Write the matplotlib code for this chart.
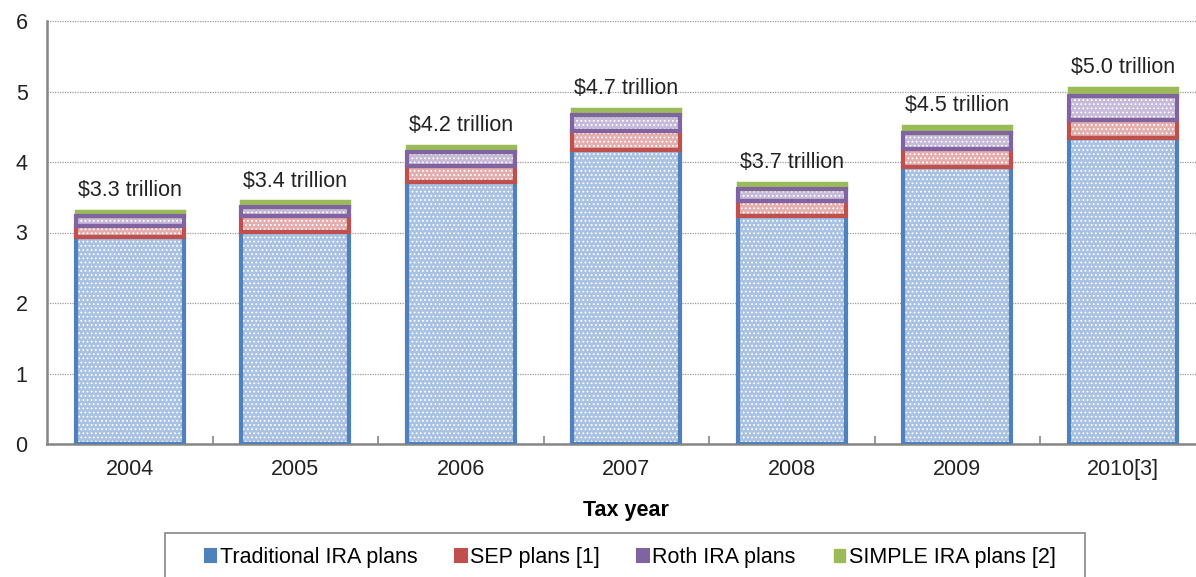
import matplotlib.pyplot as plt
import numpy as np

plt.rcParams['font.family'] = ['Liberation Sans', 'DejaVu Sans']
plt.rcParams['hatch.linewidth'] = 0.8

years = ['2004', '2005', '2006', '2007', '2008', '2009', '2010[3]']
traditional = [2.94, 3.01, 3.71, 4.17, 3.24, 3.93, 4.34]
sep = [0.15, 0.22, 0.24, 0.27, 0.21, 0.25, 0.26]
roth = [0.15, 0.13, 0.19, 0.22, 0.16, 0.23, 0.34]
simple = [0.07, 0.08, 0.09, 0.095, 0.095, 0.10, 0.11]
totals = ['$3.3 trillion', '$3.4 trillion', '$4.2 trillion', '$4.7 trillion',
          '$3.7 trillion', '$4.5 trillion', '$5.0 trillion']

series = [
    ('Traditional IRA plans', traditional, '#4F81BD', '#A9C1E2'),
    ('SEP plans [1]', sep, '#C0504D', '#E3AEAD'),
    ('Roth IRA plans', roth, '#8064A2', '#C6B9D9'),
    ('SIMPLE IRA plans [2]', simple, '#9BBB59', '#9BBB59'),
]

fig = plt.figure(figsize=(11.96, 5.77), dpi=100)
ax = fig.add_axes([47 / 1196, 1 - 444 / 577, 1158.5 / 1196, 423 / 577])

x = np.arange(len(years))
w = 0.65
bottom = np.zeros(len(years))
handles = []
for name, vals, edge, fill in series:
    vals = np.array(vals)
    if name.startswith('SIMPLE'):
        ax.bar(x, vals, w, bottom=bottom, color=fill, edgecolor=edge,
               linewidth=2.5, zorder=3)
        h = plt.Rectangle((0, 0), 1, 1, facecolor=edge, edgecolor=edge, linewidth=1)
    else:
        # hatched fill, then a thick coloured outline on top
        ax.bar(x, vals, w, bottom=bottom, color=fill, edgecolor='white',
               hatch='....', linewidth=0, zorder=3)
        ax.bar(x, vals, w, bottom=bottom, fill=False, edgecolor=edge,
               linewidth=3, zorder=4)
        h = plt.Rectangle((0, 0), 1, 1, facecolor=edge, edgecolor=edge,
                          linewidth=1.5)
    handles.append(h)
    bottom += vals

for xi, top, lab in zip(x, bottom, totals):
    ax.annotate(lab, (xi, top), xytext=(0, 7), textcoords='offset points',
                ha='center', va='bottom', fontsize=15.5, color='#222222')

ax.set_xlim(-0.5, len(years) - 0.5)
ax.set_ylim(0, 6)
ax.set_yticks(range(7))
ax.set_xticks(x)
ax.set_xticklabels(years)
ax.set_xticks(np.arange(0.5, len(years) - 0.5), minor=True)
ax.tick_params(axis='y', length=0, pad=14, labelsize=15.5, labelcolor='#222222')
ax.tick_params(axis='x', which='major', length=0, pad=11, labelsize=15.5,
               labelcolor='#222222')
ax.tick_params(axis='x', which='minor', direction='in', length=6, width=1.2,
               color='#868686')
ax.grid(axis='y', linestyle=(0, (1, 1)), color='#9a9a9a', linewidth=0.9, zorder=0)
ax.set_axisbelow(True)
for s in ['top', 'right']:
    ax.spines[s].set_visible(False)
for s in ['left', 'bottom']:
    ax.spines[s].set_color('#868686')
    ax.spines[s].set_linewidth(1.8)

ax.set_xlabel('Tax year', fontsize=15.5, fontweight='bold', labelpad=14)

# legend box runs off the bottom of the picture
frame = plt.Rectangle((165 / 1196, -0.05), 920 / 1196, 0.05 + 44 / 577,
                      transform=fig.transFigure, fill=False,
                      edgecolor='#868686', linewidth=1.2)
fig.add_artist(frame)
fig.legend(handles, [s[0] for s in series], loc='center',
           bbox_to_anchor=(630 / 1196, 1 - 558 / 577), ncol=4,
           fontsize=15.5, frameon=False, handlelength=0.55,
           handleheight=0.55, handletextpad=0.15, columnspacing=1.75)

fig.savefig('out.png', dpi=100)
